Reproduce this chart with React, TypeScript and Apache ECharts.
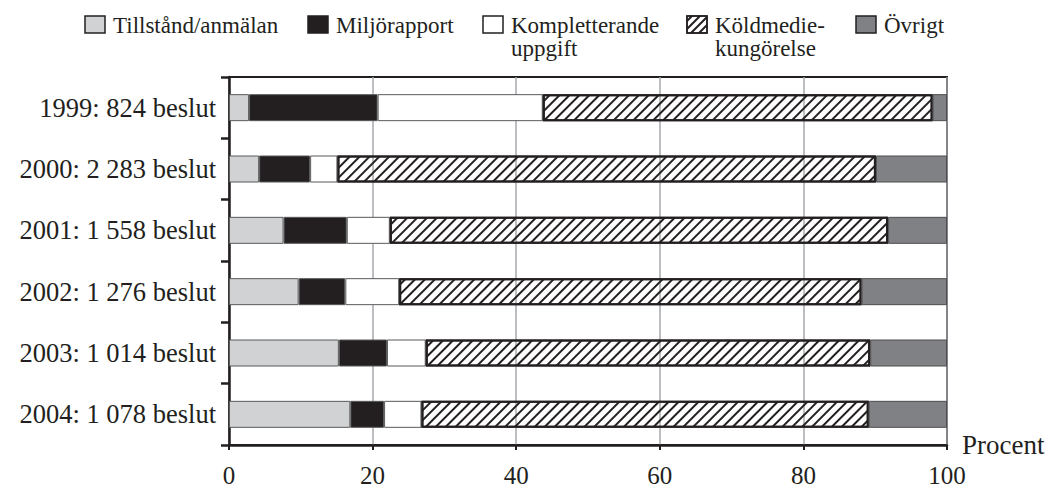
import React, { useEffect, useRef } from "react";
import * as echarts from "echarts";

const categories = [
  "1999: 824 beslut",
  "2000: 2 283 beslut",
  "2001: 1 558 beslut",
  "2002: 1 276 beslut",
  "2003: 1 014 beslut",
  "2004: 1 078 beslut",
];
const seriesNames = [
  "Tillstånd/anmälan",
  "Miljörapport",
  "Kompletterande uppgift",
  "Köldmediekungörelse",
  "Övrigt",
];
const legendLabels = [
  "Tillstånd/anmälan",
  "Miljörapport",
  "Kompletterande\nuppgift",
  "Köldmedie-\nkungörelse",
  "Övrigt",
];
const tillstand = [2.8, 4.2, 7.6, 9.7, 15.3, 16.9];
const miljo = [17.9, 7.1, 8.8, 6.5, 6.7, 4.7];
const kompl = [23.0, 3.8, 6.0, 7.5, 5.4, 5.2];
const kold = [54.3, 75.0, 69.4, 64.4, 61.9, 62.3];
const ovrigt = [2.0, 9.9, 8.2, 11.9, 10.7, 10.9];

const FONT = "Liberation Serif";
const INK = "#231f20";
const fills = ["#d1d2d4", INK, "#ffffff", "#ffffff", "#808184"];

// legend layout (pixels)
const legendBoxX = [85, 308, 483, 687, 856];
const LEG_Y = 16;
const LEG_W = 20;
const LEG_H = 17;

function legendGraphics(): any[] {
  const out: any[] = [];
  legendLabels.forEach((label, i) => {
    const x0 = legendBoxX[i];
    const children: any[] = [
      {
        type: "rect",
        shape: { x: 0, y: 0, width: LEG_W, height: LEG_H },
        style: { fill: fills[i], stroke: INK, lineWidth: 1.5 },
      },
    ];
    if (i === 3) {
      for (let c = 5; c < LEG_W + LEG_H; c += 8) {
        const xa = Math.max(0, c - LEG_H);
        const xb = Math.min(LEG_W, c);
        children.push({
          type: "line",
          shape: { x1: xa, y1: c - xa, x2: xb, y2: c - xb },
          style: { stroke: INK, lineWidth: 2 },
        });
      }
      children.push({
        type: "rect",
        shape: { x: 0, y: 0, width: LEG_W, height: LEG_H },
        style: { fill: "none", stroke: INK, lineWidth: 1.5 },
      });
    }
    out.push({ type: "group", x: x0, y: LEG_Y, children });
    out.push({
      type: "text",
      x: x0 + 28,
      y: 14,
      style: {
        text: label,
        fontFamily: FONT,
        fontSize: 23,
        fill: INK,
        lineHeight: 23,
        verticalAlign: "top",
        align: "left",
      },
    });
  });
  return out;
}

export default function App() {
  const ref = useRef<HTMLDivElement>(null);
  useEffect(() => {
    if (!ref.current) return;
    const chart = echarts.init(ref.current, undefined, { renderer: "svg" });
    const values = [tillstand, miljo, kompl, kold, ovrigt];
    const styles: any[] = [
      { color: fills[0], borderColor: "#58595b", borderWidth: 1 },
      { color: fills[1], borderColor: "#58595b", borderWidth: 1 },
      { color: fills[2], borderColor: "#58595b", borderWidth: 1 },
      {
        color: "rgba(255,255,255,0)",
        borderColor: INK,
        borderWidth: 2,
        decal: {
          symbol: "rect",
          symbolSize: 1,
          dashArrayX: [1, 0],
          dashArrayY: [2, 5],
          rotation: -Math.PI / 4,
          color: INK,
        },
      },
      { color: fills[4], borderColor: "#4d4d4f", borderWidth: 1 },
    ];
    const option: any = {
      animation: false,
      aria: { enabled: false },
      textStyle: { fontFamily: FONT, color: INK },
      graphic: legendGraphics(),
      grid: {
        left: 229,
        right: 101,
        top: 77,
        bottom: 44,
        show: true,
        borderColor: INK,
        borderWidth: 2,
        backgroundColor: "transparent",
      },
      xAxis: {
        type: "value",
        min: 0,
        max: 100,
        interval: 20,
        name: "Procent",
        nameLocation: "end",
        nameGap: 15,
        nameTextStyle: {
          fontFamily: FONT,
          fontSize: 27,
          color: INK,
          padding: [0, 0, 16, 0],
        },
        axisLine: { show: true, lineStyle: { color: INK, width: 2.5 } },
        axisTick: { show: true, length: 5, lineStyle: { color: INK, width: 2 } },
        axisLabel: {
          fontFamily: FONT,
          fontSize: 25,
          color: INK,
          margin: 18,
        },
        splitLine: { show: true, lineStyle: { color: "#a7a9ac", width: 1.5 } },
      },
      yAxis: {
        type: "category",
        inverse: true,
        data: categories,
        axisLine: { show: true, lineStyle: { color: INK, width: 2.5 } },
        axisTick: { show: true, length: 8, lineStyle: { color: INK, width: 2.5 } },
        axisLabel: { fontFamily: FONT, fontSize: 26.5, color: INK, margin: 13 },
        splitLine: { show: false },
      },
      series: seriesNames.map((name, i) => ({
        name,
        type: "bar",
        stack: "total",
        barWidth: 27,
        data: values[i],
        itemStyle: styles[i],
        emphasis: { disabled: true },
      })),
    };
    chart.setOption(option);
    return () => chart.dispose();
  }, []);
  return (
    <div
      ref={ref}
      style={{ position: "absolute", left: 0, top: 0, width: 1048, height: 489 }}
    />
  );
}
